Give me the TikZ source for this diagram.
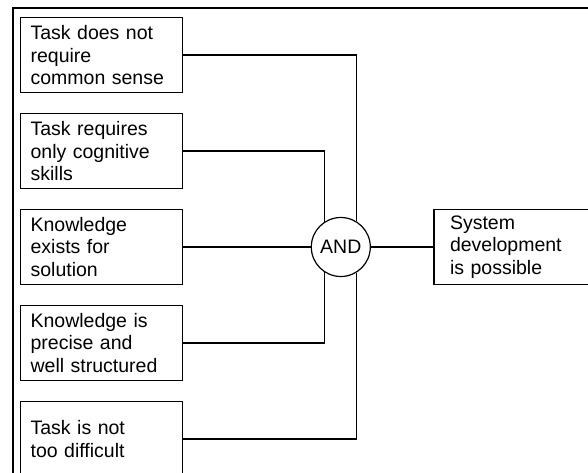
\documentclass[tikz,border=0pt]{standalone}
\usepackage{fontspec}
\setmainfont{Liberation Sans}
\usetikzlibrary{positioning}
\tikzset{
    %Define style for condition boxes
    cond/.style={
           rectangle,
           draw=black, line width=1.2pt,
           minimum height=75pt,
           text width=142pt,
           inner xsep=10pt,
           align=left,
           font=\fontsize{19.5}{22.5}\selectfont},
    %Define style for the result box
    outcome/.style={
           rectangle,
           draw=black, line width=1.2pt,
           minimum height=75pt,
           text width=150pt,
           inner xsep=16pt,
           align=left,
           font=\fontsize{19.5}{22.5}\selectfont},
    %Define style for the AND gate
    gate/.style={
           circle,
           draw=black, line width=1.2pt,
           minimum size=59pt,
           inner sep=0pt,
           font=\fontsize{19.5}{22.5}\selectfont},
    % Define line styles
    elbow/.style={
           to path={-| (\tikztotarget)}}
}
\begin{document}
\begin{tikzpicture}[x=1pt,y=-1pt,node distance=19.75pt,line width=1.2pt]
 \useasboundingbox (0,0) rectangle (588,473);

 %frame, cut off at the right and bottom
 \draw[line width=1.4pt] (600,8) -- (13,8) -- (13,480);

 %nodes
 \node[cond, anchor=north west](1) at (20,17){Task does not\\require\\common sense};
 \node[cond, below=of 1](2){Task requires\\only cognitive\\skills};
 \node[cond, below=of 2](3){Knowledge\\exists for\\solution};
 \node[cond, below=of 3](4){Knowledge is\\precise and\\well structured};
 \node[cond, below=of 4](5){Task is not\\too difficult};
 \node[gate, right=127.5pt of 3](and){AND};
 \node[outcome, right=62.5pt of and](out){System\\development\\is possible};

 \path
    (1) edge[elbow] (and.59)
    (2) edge[elbow] (and.123)
    (3) edge (and)
    (4) edge[elbow] (and.237)
    (5) edge[elbow] (and.301)
    (and) edge (out);

\end{tikzpicture}
\end{document}
